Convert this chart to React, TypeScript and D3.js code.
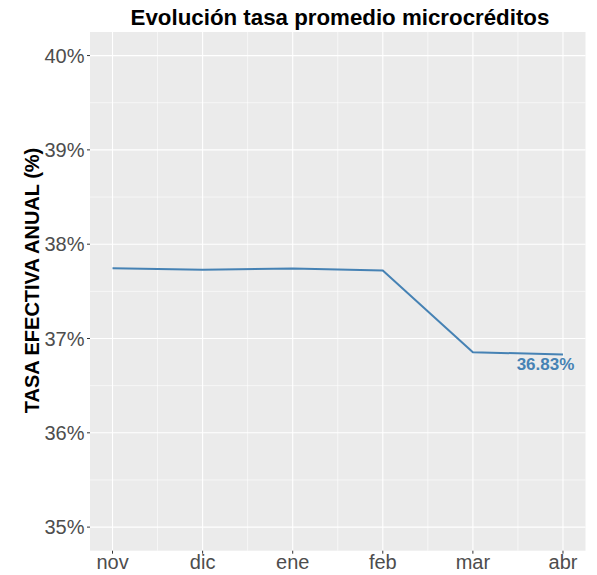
import React from "react";
import * as d3 from "d3";

const months = ["nov", "dic", "ene", "feb", "mar", "abr"];
const rates = [37.744, 37.73, 37.742, 37.72, 36.855, 36.83];
const yTicks = [35, 36, 37, 38, 39, 40];
const lastLabel = "36.83%";

const W = 597, H = 575;
const left = 90, right = 585.5, top = 32, bottom = 550.7;

export default function App() {
  const x = d3.scaleLinear().domain([-0.25, 5.25]).range([left, right]);
  const y = d3.scaleLinear().domain([34.75, 40.25]).range([bottom, top]);
  const line = d3.line<number>().x((_, i) => x(i)).y(d => y(d));
  const minorY = yTicks.slice(0, -1).map(v => v + 0.5);
  const minorX = months.slice(0, -1).map((_, i) => i + 0.5);
  const font = "Liberation Sans, Arial, Helvetica, sans-serif";
  return (
    <svg width={W} height={H} style={{ position: "absolute", left: 0, top: 0 }} fontFamily={font}>
      <rect x={0} y={0} width={W} height={H} fill="#fff" />
      <rect x={left} y={top} width={right - left} height={bottom - top} fill="#EBEBEB" />
      {minorY.map(v => (
        <line key={"my" + v} x1={left} x2={right} y1={y(v)} y2={y(v)} stroke="#fff" strokeWidth={0.6} />
      ))}
      {minorX.map(v => (
        <line key={"mx" + v} y1={top} y2={bottom} x1={x(v)} x2={x(v)} stroke="#fff" strokeWidth={0.6} />
      ))}
      {yTicks.map(v => (
        <line key={"y" + v} x1={left} x2={right} y1={y(v)} y2={y(v)} stroke="#fff" strokeWidth={1.1} />
      ))}
      {months.map((_, i) => (
        <line key={"x" + i} y1={top} y2={bottom} x1={x(i)} x2={x(i)} stroke="#fff" strokeWidth={1.1} />
      ))}
      <path d={line(rates) || ""} fill="none" stroke="#4682B4" strokeWidth={2} />
      {yTicks.map(v => (
        <g key={"yt" + v}>
          <line x1={left - 3} x2={left} y1={y(v)} y2={y(v)} stroke="#333" strokeWidth={1} />
          <text x={left - 5.5} y={y(v)} dy="0.36em" textAnchor="end" fontSize={20} fill="#4D4D4D">{v}%</text>
        </g>
      ))}
      {months.map((m, i) => (
        <g key={"xt" + m}>
          <line y1={bottom} y2={bottom + 3} x1={x(i)} x2={x(i)} stroke="#333" strokeWidth={1} />
          <text x={x(i)} y={569} textAnchor="middle" fontSize={20} fill="#4D4D4D">{m}</text>
        </g>
      ))}
      <text x={x(5) - 17.5} y={y(rates[5]) + 15.5} textAnchor="middle" fontSize={17} fontWeight="bold" fill="#4682B4">{lastLabel}</text>
      <text x={340} y={25} textAnchor="middle" fontSize={22.3} fontWeight="bold" fill="#000">Evolución tasa promedio microcréditos</text>
      <text transform={`translate(38.5,280.5) rotate(-90)`} textAnchor="middle" fontSize={20} fontWeight="bold" fill="#000">TASA EFECTIVA ANUAL (%)</text>
    </svg>
  );
}
